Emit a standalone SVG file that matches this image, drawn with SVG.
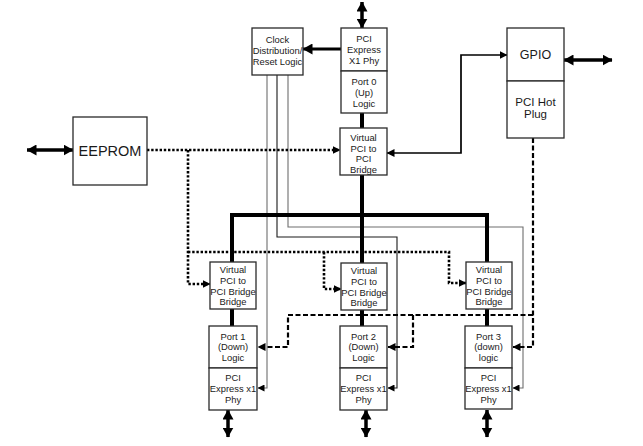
<svg xmlns="http://www.w3.org/2000/svg" width="643" height="446" viewBox="0 0 643 446">
<defs>
<style>
.box{fill:#fff;stroke:#2a2a2a;stroke-width:1.3}
.t{font-family:"Liberation Sans",Arial,sans-serif;font-size:9.4px;fill:#1a1a1a;text-anchor:middle}
.tb{font-family:"Liberation Sans",Arial,sans-serif;fill:#1a1a1a;text-anchor:middle}
.thick{fill:none;stroke:#000;stroke-width:4}
.thin{fill:none;stroke:#6e6e6e;stroke-width:1.1}
.thind{fill:none;stroke:#1a1a1a;stroke-width:1.1}
.dot{fill:none;stroke:#000;stroke-width:2.6;stroke-dasharray:2.4 1.8}
.dash{fill:none;stroke:#000;stroke-width:2.2;stroke-dasharray:5 2.5}
.ln{fill:none;stroke:#000;stroke-width:1.7}
.dbl{fill:none;stroke:#000;stroke-width:3.5}
</style>
<marker id="ah" viewBox="0 0 8 8" refX="7.5" refY="4" markerWidth="8" markerHeight="8" markerUnits="userSpaceOnUse" orient="auto-start-reverse"><path d="M0,0 L8,4 L0,8 z" fill="#000"/></marker>
<marker id="as" viewBox="0 0 7 7" refX="6.5" refY="3.5" markerWidth="7" markerHeight="7" markerUnits="userSpaceOnUse" orient="auto-start-reverse"><path d="M0,0 L7,3.5 L0,7 z" fill="#000"/></marker>
<marker id="ab" viewBox="0 0 10 11" refX="9.5" refY="5.5" markerWidth="10" markerHeight="11" markerUnits="userSpaceOnUse" orient="auto-start-reverse"><path d="M0,0 L10,5.5 L0,11 z" fill="#000"/></marker>
</defs>
<g id="connectors">
<path class="thin" d="M267,75 V388 H258" marker-end="url(#as)"/>
<path class="thind" d="M277,75 V237 H397 V388 H388" marker-end="url(#as)"/>
<path class="thin" d="M288,75 V227 H523 V388 H513" marker-end="url(#as)"/>
<path class="thick" d="M362,113 V128"/>
<path class="thick" d="M362,175 V263"/>
<path class="thick" d="M232,262 V215 H487 V262"/>
<path class="thick" d="M232,309 V326"/>
<path class="thick" d="M362,310 V326"/>
<path class="thick" d="M487,309 V326"/>
<path class="dot" d="M147,150 H340" marker-end="url(#ah)"/>
<path class="dot" d="M188,150 V284 H210" marker-end="url(#ah)"/>
<path class="dot" d="M188,252 H449 V283 H466" marker-end="url(#ah)"/>
<path class="dot" d="M324,252 V289 H341" marker-end="url(#ah)"/>
<path class="dash" d="M533,138 V347 H513" marker-end="url(#ah)"/>
<path class="dash" d="M533,315 H288 V347 H258" marker-end="url(#ah)"/>
<path class="dash" d="M413,315 V347 H388" marker-end="url(#ah)"/>
<path class="ln" d="M387,153 H461 V55 H507" marker-start="url(#ah)" marker-end="url(#ah)"/>
<path class="ln" style="stroke-width:3" d="M341,49 H303" marker-end="url(#ab)"/>
<path class="dbl" d="M27,150 H73" marker-start="url(#ab)" marker-end="url(#ab)"/>
<path class="dbl" d="M564,60 H612" marker-start="url(#ab)" marker-end="url(#ab)"/>
<path class="dbl" d="M362,2 V28" marker-start="url(#ab)" marker-end="url(#ab)"/>
<path class="dbl" d="M228,410 V437" marker-start="url(#ab)" marker-end="url(#ab)"/>
<path class="dbl" d="M366,410 V437" marker-start="url(#ab)" marker-end="url(#ab)"/>
<path class="dbl" d="M487,410 V437" marker-start="url(#ab)" marker-end="url(#ab)"/>
</g>
<g id="clock"><rect class="box" x="252" y="28" width="51" height="47"/><text class="t" x="277.5" y="42.5">Clock</text><text class="t" x="277.5" y="53.5">Distribution/</text><text class="t" x="277.5" y="64.5">Reset Logic</text></g>
<g id="phy0"><rect class="box" x="341" y="28" width="46" height="43"/><text class="t" x="364" y="42">PCI</text><text class="t" x="364" y="53">Express</text><text class="t" x="364" y="64">X1 Phy</text></g>
<g id="port0"><rect class="box" x="341" y="71" width="46" height="42"/><text class="t" x="364" y="84.5">Port 0</text><text class="t" x="364" y="95.5">(Up)</text><text class="t" x="364" y="106.5">Logic</text></g>
<g id="bridge0"><rect class="box" x="340" y="128" width="47" height="47"/><text class="t" x="363.5" y="140.5">Virtual</text><text class="t" x="363.5" y="151.5">PCI to</text><text class="t" x="363.5" y="162">PCI</text><text class="t" x="363.5" y="172.5">Bridge</text></g>
<g id="gpio"><rect class="box" x="507" y="28" width="57" height="53"/><text class="tb" x="535.5" y="59" font-size="12.5">GPIO</text></g>
<g id="hotplug"><rect class="box" x="507" y="81" width="57" height="57"/><text class="tb" x="535.5" y="105.5" font-size="11.5">PCI Hot</text><text class="tb" x="535.5" y="117.5" font-size="11.5">Plug</text></g>
<g id="eeprom"><rect class="box" x="73" y="117" width="74" height="68"/><text class="tb" x="110" y="156" font-size="14.5">EEPROM</text></g>
<g id="vb1"><rect class="box" x="210" y="262" width="46" height="47"/><text class="t" x="233" y="273">Virtual</text><text class="t" x="233" y="284">PCI to</text><text class="t" x="233" y="294.5">PCI Bridge</text><text class="t" x="233" y="305">Bridge</text></g>
<g id="vb2"><rect class="box" x="341" y="263" width="46" height="47"/><text class="t" x="364" y="274">Virtual</text><text class="t" x="364" y="285">PCI to</text><text class="t" x="364" y="295.5">PCI Bridge</text><text class="t" x="364" y="306">Bridge</text></g>
<g id="vb3"><rect class="box" x="466" y="262" width="46" height="47"/><text class="t" x="489" y="273">Virtual</text><text class="t" x="489" y="284">PCI to</text><text class="t" x="489" y="294.5">PCI Bridge</text><text class="t" x="489" y="305">Bridge</text></g>
<g id="port1"><rect class="box" x="209" y="326" width="48" height="42"/><text class="t" x="233" y="339.5">Port 1</text><text class="t" x="233" y="350">(Down)</text><text class="t" x="233" y="361">Logic</text></g>
<g id="phy1"><rect class="box" x="209" y="368" width="48" height="42"/><text class="t" x="233" y="381">PCI</text><text class="t" x="233" y="392">Express x1</text><text class="t" x="233" y="403">Phy</text></g>
<g id="port2"><rect class="box" x="340" y="326" width="47" height="42"/><text class="t" x="363.5" y="339.5">Port 2</text><text class="t" x="363.5" y="350">(Down)</text><text class="t" x="363.5" y="361">Logic</text></g>
<g id="phy2"><rect class="box" x="340" y="368" width="47" height="42"/><text class="t" x="363.5" y="381">PCI</text><text class="t" x="363.5" y="392">Express x1</text><text class="t" x="363.5" y="403">Phy</text></g>
<g id="port3"><rect class="box" x="465" y="326" width="47" height="42"/><text class="t" x="488.5" y="339.5">Port 3</text><text class="t" x="488.5" y="350">(down)</text><text class="t" x="488.5" y="361">logic</text></g>
<g id="phy3"><rect class="box" x="465" y="368" width="47" height="41"/><text class="t" x="488.5" y="381">PCI</text><text class="t" x="488.5" y="392">Express x1</text><text class="t" x="488.5" y="403">Phy</text></g>
</svg>
